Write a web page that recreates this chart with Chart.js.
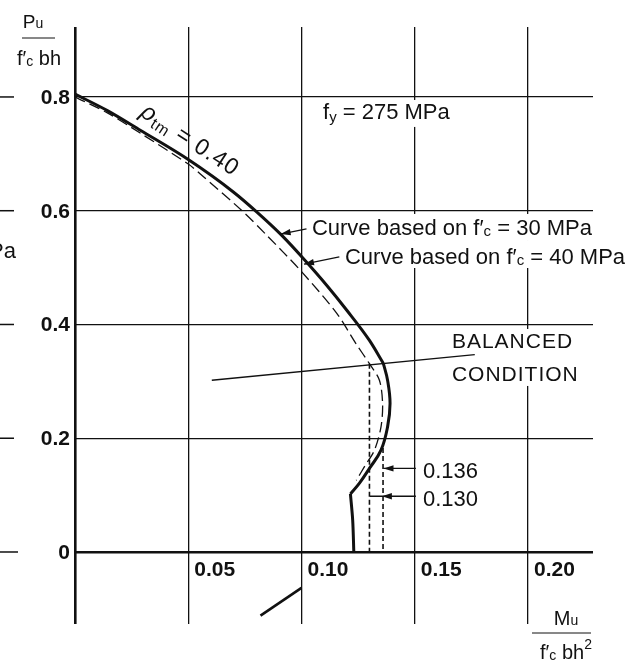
<!DOCTYPE html>
<html>
<head>
<meta charset="utf-8">
<script src="https://cdn.jsdelivr.net/npm/chart.js@4.4.1/dist/chart.umd.min.js"></script>
<style>
  html, body { margin: 0; padding: 0; background: #fff; }
</style>
</head>
<body>
<canvas id="c" width="630" height="662"></canvas>
<script>
'use strict';

/* ejes */
const xTicks = [0, 0.05, 0.10, 0.15, 0.20];
const xLabels = ['', '0.05', '0.10', '0.15', '0.20'];
const yTicks = [0, 0.2, 0.4, 0.6, 0.8];
const yLabels = ['0', '0.2', '0.4', '0.6', '0.8'];

/* curva f'c = 30 MPa (trazo grueso), en tres tramos por los quiebres */
const fc30Upper = [[0, 0.805], [0.0143, 0.776], [0.029, 0.741], [0.05, 0.690], [0.0699, 0.633],
  [0.0802, 0.598], [0.0912, 0.557], [0.1008, 0.516], [0.1111, 0.469], [0.1200, 0.425],
  [0.130, 0.372], [0.1361, 0.332]];
const fc30Mid = [[0.1361, 0.332], [0.138, 0.302], [0.1391, 0.261], [0.138, 0.220],
  [0.1351, 0.179], [0.130, 0.147], [0.1256, 0.121], [0.1216, 0.102]];
const fc30Low = [[0.1216, 0.102], [0.1226, 0.056], [0.1231, 0]];

/* curva f'c = 40 MPa (discontinua) */
const fc40 = [[0, 0.80], [0.0143, 0.772], [0.029, 0.736], [0.05, 0.682], [0.0552, 0.665],
  [0.0743, 0.598], [0.0846, 0.557], [0.0993, 0.496], [0.1155, 0.420], [0.1241, 0.366],
  [0.130, 0.331], [0.1344, 0.302], [0.1358, 0.261], [0.1351, 0.220], [0.1322, 0.179],
  [0.1278, 0.150], [0.1242, 0.126]];

/* momentos de flexión pura y condición balanceada */
const pure130 = [[0.130, 0.331], [0.130, 0]];
const pure136 = [[0.136, 0.183], [0.136, 0]];
const balanced = [[0.0604, 0.302], [0.1765, 0.347]];
const stray = [[0.0819, -0.112], [0.1, -0.063]];

/* anotaciones (coordenadas de datos) */
const arrows = [
  { from: [0.1022, 0.568], to: [0.0908, 0.559] },
  { from: [0.1167, 0.519], to: [0.1011, 0.506] },
  { from: [0.1505, 0.147], to: [0.1362, 0.147] },
  { from: [0.1505, 0.098], to: [0.1302, 0.098], head: 0.1355 },
];
const masks = [   // parches blancos: en el original el texto corta la cuadrícula
  [0.1082, 0.1691, 0.7947, 0.7473],
  [0.1033, 0.2300, 0.5943, 0.5468],
  [0.1183, 0.2300, 0.5468, 0.4993],
  [0.1656, 0.2300, 0.3921, 0.2919],
];

const FONT = '"Liberation Sans", Arial, Helvetica, sans-serif';
const pts = a => a.map(([x, y]) => ({ x, y }));

function rich(ctx, x, y, parts, align = 'left') {
  // parts: [texto, tamaño, desplazamiento vertical, estilo]
  const f = p => `${p[3] || ''} ${p[1]}px ${FONT}`;
  ctx.textAlign = 'left';
  ctx.textBaseline = 'alphabetic';
  let w = 0;
  for (const p of parts) { ctx.font = f(p); w += ctx.measureText(p[0]).width; }
  let cx = align === 'left' ? x : align === 'center' ? x - w / 2 : x - w;
  for (const p of parts) {
    ctx.font = f(p);
    ctx.fillText(p[0], cx, y + (p[2] || 0));
    cx += ctx.measureText(p[0]).width;
  }
}

function arrow(ctx, x0, y0, x1, y1, hx) {
  ctx.beginPath(); ctx.moveTo(x0, y0); ctx.lineTo(x1, y1); ctx.stroke();
  const tx = hx == null ? x1 : hx, ty = y1;
  const a = Math.atan2(y1 - y0, x1 - x0), L = 10, W = 3.2;
  ctx.beginPath();
  ctx.moveTo(tx, ty);
  ctx.lineTo(tx - L * Math.cos(a) + W * Math.sin(a), ty - L * Math.sin(a) - W * Math.cos(a));
  ctx.lineTo(tx - L * Math.cos(a) - W * Math.sin(a), ty - L * Math.sin(a) + W * Math.cos(a));
  ctx.closePath(); ctx.fill();
}

const notes = {
  id: 'notes',
  beforeDatasetsDraw(chart) {
    const { ctx } = chart, X = chart.scales.x, Y = chart.scales.y;
    ctx.save();
    ctx.fillStyle = '#fff';
    for (const m of masks) {
      const x0 = X.getPixelForValue(m[0]), x1 = X.getPixelForValue(m[1]);
      const y0 = Y.getPixelForValue(m[2]), y1 = Y.getPixelForValue(m[3]);
      ctx.fillRect(x0, y0, x1 - x0, y1 - y0);
    }
    ctx.restore();
  },
  afterDatasetsDraw(chart) {
    const { ctx, chartArea: ca } = chart, X = chart.scales.x, Y = chart.scales.y;
    const px = v => X.getPixelForValue(v), py = v => Y.getPixelForValue(v);
    ctx.save();
    ctx.fillStyle = '#111';
    ctx.strokeStyle = '#111';

    /* etiquetas de los ejes */
    ctx.font = `bold 21px ${FONT}`;
    ctx.textBaseline = 'middle';
    ctx.textAlign = 'left';
    xTicks.forEach((v, i) => { if (xLabels[i]) ctx.fillText(xLabels[i], px(v) + 6, py(0) + 18); });
    ctx.textAlign = 'right';
    yTicks.forEach((v, i) => ctx.fillText(yLabels[i], ca.left - 5, py(v) + 1));

    /* restos del gráfico vecino a la izquierda */
    ctx.lineWidth = 1.5;
    yTicks.forEach(v => { ctx.beginPath(); ctx.moveTo(0, py(v)); ctx.lineTo(v === 0 ? 18 : 14, py(v)); ctx.stroke(); });
    rich(ctx, 16, 258, [['MPa', 22]], 'right');

    /* títulos de ejes */
    ctx.lineWidth = 1;
    rich(ctx, ca.left - 42, ca.top + 1, [['P', 19], ['u', 14]], 'center');
    ctx.beginPath(); ctx.moveTo(ca.left - 53, ca.top + 11); ctx.lineTo(ca.left - 20, ca.top + 11); ctx.stroke();
    rich(ctx, ca.left - 36, ca.top + 38, [['f′', 20], ['c', 14, 1], [' bh', 20]], 'center');
    rich(ctx, ca.right - 27, ca.bottom + 1, [['M', 20], ['u', 14]], 'center');
    ctx.beginPath(); ctx.moveTo(ca.right - 61, ca.bottom + 9); ctx.lineTo(ca.right - 2, ca.bottom + 9); ctx.stroke();
    rich(ctx, ca.right - 27, ca.bottom + 35, [['f′', 20], ['c', 14, 1], [' bh', 20], ['2', 14, -10]], 'center');

    /* textos del gráfico */
    rich(ctx, px(0.1095), py(0.776) + 8, [['f', 22], ['y', 15, 3], [' = 275 MPa', 22]]);
    rich(ctx, px(0.1046), py(0.5714) + 8, [['Curve based on f′', 22], ['c', 15, 1], [' = 30 MPa', 22]]);
    rich(ctx, px(0.1192), py(0.5204) + 8, [['Curve based on f′', 22], ['c', 15, 1], [' = 40 MPa', 22]]);
    ctx.letterSpacing = '1px';
    rich(ctx, px(0.1664), py(0.3727) + 8, [['BALANCED', 21]]);
    rich(ctx, px(0.1664), py(0.3147) + 8, [['CONDITION', 21]]);
    ctx.letterSpacing = '0px';
    rich(ctx, px(0.1536), py(0.1442) + 8, [['0.136', 22]]);
    rich(ctx, px(0.1536), py(0.0949) + 8, [['0.130', 22]]);

    ctx.save();
    ctx.translate(px(0.0508), py(0.7244));
    ctx.rotate(33 * Math.PI / 180);
    ctx.letterSpacing = '1px';
    rich(ctx, 0, 7, [['ρ', 24, 0, 'italic'], ['tm', 16, 4], [' = 0.40', 23]], 'center');
    ctx.restore();

    /* flechas */
    ctx.lineWidth = 1.3;
    for (const a of arrows) {
      arrow(ctx, px(a.from[0]), py(a.from[1]), px(a.to[0]), py(a.to[1]), a.head == null ? null : px(a.head));
    }
    ctx.restore();
  },
};

const line = (data, o) => ({ data: pts(data), showLine: true, pointRadius: 0, borderColor: '#111', fill: false, ...o });

new Chart(document.getElementById('c'), {
  type: 'scatter',
  data: {
    datasets: [
      line(balanced, { borderWidth: 1.4 }),
      line(pure130, { borderWidth: 1.6, borderDash: [5, 3] }),
      line(pure136, { borderWidth: 1.6, borderDash: [5, 3] }),
      line(fc40, { borderWidth: 1.3, borderDash: [11, 5], tension: 0.3 }),
      line(fc30Upper, { borderWidth: 3, cubicInterpolationMode: 'monotone' }),
      line(fc30Mid, { borderWidth: 3, tension: 0.4 }),
      line(fc30Low, { borderWidth: 3, tension: 0.3 }),
      line(stray, { borderWidth: 2.6 }),
    ],
  },
  options: {
    responsive: false,
    animation: false,
    layout: { padding: { left: 75, right: 37, top: 27, bottom: 38 } },
    plugins: { legend: { display: false }, tooltip: { enabled: false } },
    scales: {
      x: {
        type: 'linear', min: 0, max: 0.2287,
        afterBuildTicks: s => { s.ticks = xTicks.map(value => ({ value })); },
        afterFit: s => { s.height = 0; },
        ticks: { display: false },
        border: { display: false },
        grid: { color: '#111', drawTicks: false, lineWidth: c => (c.tick && c.tick.value === 0 ? 2.6 : 1.3) },
      },
      y: {
        type: 'linear', min: -0.1266, max: 0.923,
        afterBuildTicks: s => { s.ticks = yTicks.map(value => ({ value })); },
        afterFit: s => { s.width = 0; },
        ticks: { display: false },
        border: { display: false },
        grid: { color: '#111', drawTicks: false, lineWidth: c => (c.tick && c.tick.value === 0 ? 2.6 : 1.3) },
      },
    },
  },
  plugins: [notes],
});
</script>
</body>
</html>
